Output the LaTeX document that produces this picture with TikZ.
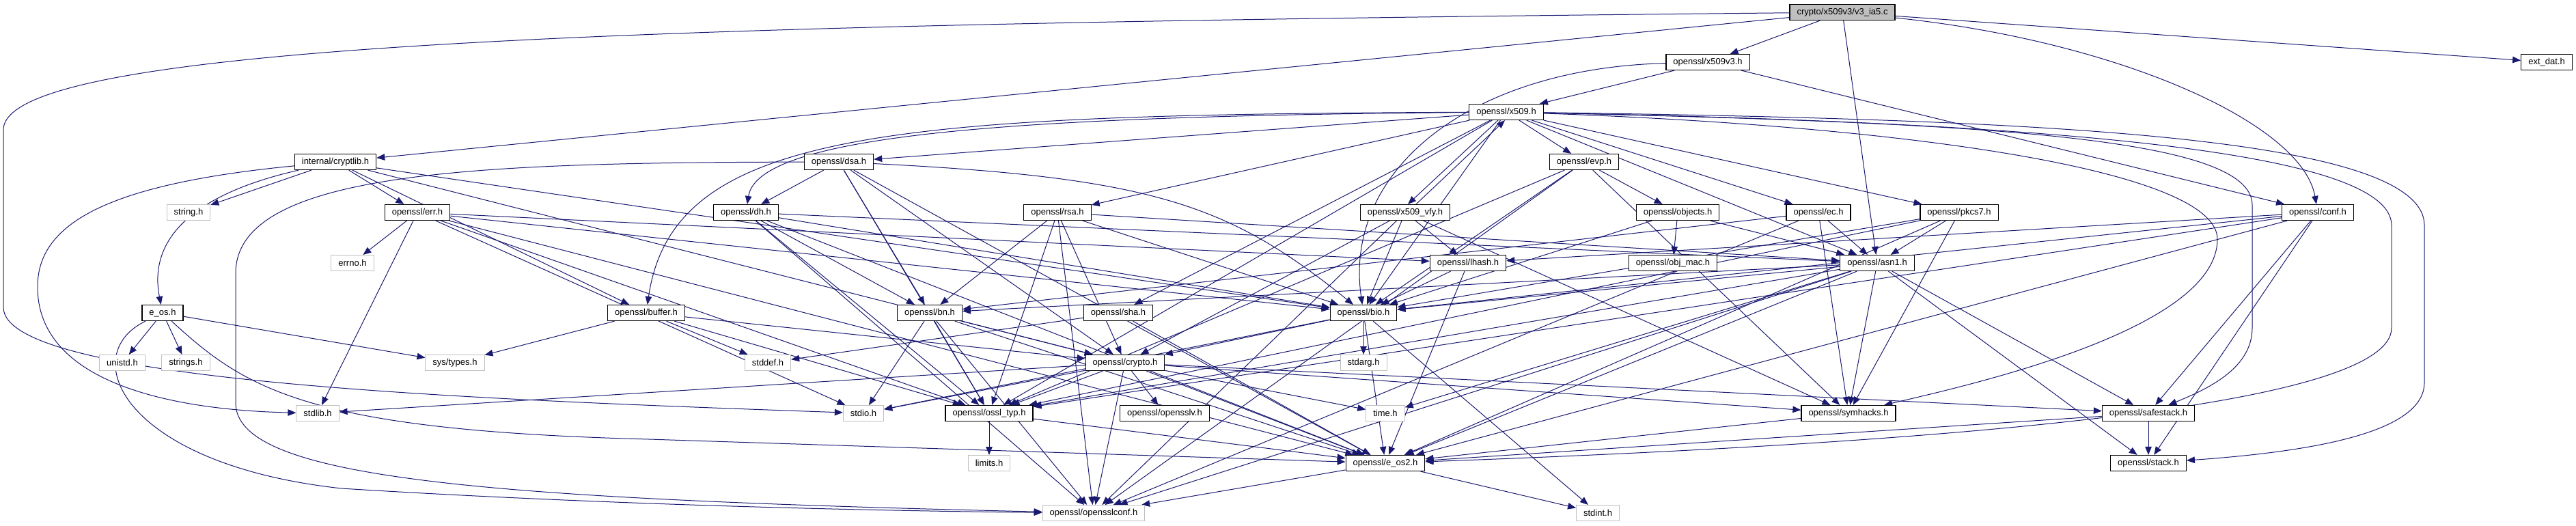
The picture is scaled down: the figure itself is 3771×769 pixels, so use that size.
\documentclass[tikz,border=0pt]{standalone}
\usepackage{fontspec}
\setmainfont{Liberation Sans}
\usetikzlibrary{arrows.meta}
\pgfdeclarelayer{background}
\pgfsetlayers{background,main}
\definecolor{dotblue}{HTML}{191970}
\definecolor{dotgrey}{HTML}{BFBFBF}
\tikzset{
  inc node/.style={
    draw=black,fill=white,line width=1.2pt,minimum height=23pt,
    inner xsep=10.5pt,inner ysep=0pt,font=\fontsize{13}{15}\selectfont
  },
  inc ext/.style={inc node,draw=dotgrey,line width=1pt},
  inc main/.style={inc node,fill=dotgrey},
  inc edge/.style={dotblue,line width=1pt,-{Triangle[length=12pt,width=9.5pt]}}
}

\begin{document}
\begin{tikzpicture}[x=1pt,y=-1pt]
  \useasboundingbox (0,0) rectangle (3771,769);
  % rows 0-2
  \node[inc main] (main) at (2697,18) {crypto/x509v3/v3\_ia5.c};
  \node[inc node] (x509v3) at (2500,91) {openssl/x509v3.h};
  \node[inc node] (extdat) at (3728,91) {ext\_dat.h};
  \node[inc node] (x509) at (2205,164) {openssl/x509.h};
  % rows 3-5
  \node[inc node] (cryptlib) at (491,237) {internal/cryptlib.h};
  \node[inc node] (dsa) at (1228,237) {openssl/dsa.h};
  \node[inc node] (evp) at (2319,237) {openssl/evp.h};
  \node[inc ext] (string) at (276,311) {string.h};
  \node[inc node] (err) at (611,311) {openssl/err.h};
  \node[inc node] (dh) at (1092,311) {openssl/dh.h};
  \node[inc node] (rsa) at (1548,311) {openssl/rsa.h};
  \node[inc node] (x509vfy) at (2057,311) {openssl/x509\_vfy.h};
  \node[inc node] (objects) at (2456,311) {openssl/objects.h};
  \node[inc node] (ec) at (2662,311) {openssl/ec.h};
  \node[inc node] (pkcs7) at (2868,311) {openssl/pkcs7.h};
  \node[inc node] (conf) at (3393,311) {openssl/conf.h};
  \node[inc ext] (errno) at (516,385) {errno.h};
  \node[inc node] (lhash) at (2149,385) {openssl/lhash.h};
  \node[inc node] (objmac) at (2449,385) {openssl/obj\_mac.h};
  \node[inc node] (asn1) at (2748,385) {openssl/asn1.h};
  % rows 6-7
  \node[inc node] (eos) at (238,458) {e\_os.h};
  \node[inc node] (buffer) at (946,458) {openssl/buffer.h};
  \node[inc node] (bn) at (1361,458) {openssl/bn.h};
  \node[inc node] (sha) at (1637,458) {openssl/sha.h};
  \node[inc node] (bio) at (1996,458) {openssl/bio.h};
  \node[inc ext] (unistd) at (179,531) {unistd.h};
  \node[inc ext] (strings) at (272,531) {strings.h};
  \node[inc ext] (systypes) at (666,531) {sys/types.h};
  \node[inc ext] (stddef) at (1124,531) {stddef.h};
  \node[inc node] (crypto) at (1647,531) {openssl/crypto.h};
  \node[inc ext] (stdarg) at (1996,531) {stdarg.h};
  % rows 8-10
  \node[inc ext] (stdlib) at (465,605) {stdlib.h};
  \node[inc ext] (stdio) at (1264,605) {stdio.h};
  \node[inc node] (ossltyp) at (1448,605) {openssl/ossl\_typ.h};
  \node[inc node] (opensslv) at (1705,605) {openssl/opensslv.h};
  \node[inc ext] (time) at (2028,605) {time.h};
  \node[inc node] (symhacks) at (2706,605) {openssl/symhacks.h};
  \node[inc node] (safestack) at (3145,605) {openssl/safestack.h};
  \node[inc ext] (limits) at (1448,678) {limits.h};
  \node[inc node] (eostwo) at (2028,678) {openssl/e\_os2.h};
  \node[inc node] (stack) at (3145,678) {openssl/stack.h};
  \node[inc ext] (opensslconf) at (1601,751) {openssl/opensslconf.h};
  \node[inc ext] (stdint) at (2339,751) {stdint.h};

  \begin{pgfonlayer}{background}
  \foreach \src/\dst in {
      main/cryptlib,main/x509v3,main/asn1,main/extdat,
      x509v3/x509,x509v3/conf,
      x509/dsa,x509/rsa,x509/evp,x509/ec,x509/pkcs7,
      x509/bio,x509/sha,x509/asn1,x509/ossltyp,
      cryptlib/string,cryptlib/crypto,cryptlib/buffer,cryptlib/bio,cryptlib/err,
      dsa/eostwo,dsa/crypto,dsa/ossltyp,dsa/bn,dsa/dh,
      evp/opensslconf,evp/ossltyp,evp/symhacks,evp/bio,evp/objects,
      err/eostwo,err/stdio,err/stdlib,err/ossltyp,err/bio,err/lhash,err/errno,
      dh/opensslconf,dh/eostwo,dh/bio,dh/asn1,dh/ossltyp,dh/bn,
      rsa/opensslconf,rsa/asn1,rsa/bio,rsa/crypto,rsa/ossltyp,rsa/bn,
      x509vfy/opensslconf,x509vfy/lhash,x509vfy/bio,x509vfy/crypto,x509vfy/symhacks,
      objects/objmac,objects/bio,objects/asn1,
      ec/opensslconf,ec/asn1,ec/symhacks,ec/bn,
      pkcs7/asn1,pkcs7/bio,pkcs7/eostwo,pkcs7/symhacks,pkcs7/ossltyp,
      conf/bio,conf/lhash,conf/stack,conf/safestack,conf/eostwo,conf/ossltyp,
      lhash/eostwo,lhash/bio,
      asn1/time,asn1/eostwo,asn1/opensslconf,asn1/bio,asn1/stack,asn1/safestack,
      asn1/symhacks,asn1/ossltyp,asn1/bn,
      eos/unistd,eos/strings,eos/systypes,
      buffer/ossltyp,buffer/crypto,buffer/stddef,buffer/systypes,
      bn/eostwo,bn/stdio,bn/opensslconf,bn/ossltyp,bn/crypto,
      sha/eostwo,sha/stddef,
      bio/eostwo,bio/stdio,bio/stdarg,bio/crypto,bio/stdint,
      crypto/stdlib,crypto/time,crypto/eostwo,crypto/stdio,crypto/safestack,
      crypto/opensslv,crypto/ossltyp,crypto/opensslconf,crypto/symhacks,
      ossltyp/limits,ossltyp/eostwo,symhacks/eostwo,
      safestack/stack,safestack/eostwo,
      eostwo/opensslconf,eostwo/stdint}
    \draw[inc edge] (\src) -- (\dst);
  % routed round the left side
  \draw[inc edge] (main) .. controls (1000,35) and (5,60) .. (5,190)
    -- (5,450) .. controls (5,560) and (700,585) .. (stdio);
  \draw[inc edge] (cryptlib) .. controls (150,270) and (55,330) .. (55,420)
    .. controls (55,560) and (250,600) .. (stdlib);
  \draw[inc edge] (cryptlib) .. controls (300,280) and (215,340) .. (eos);
  \draw[inc edge] (eos) .. controls (110,520) and (180,680) .. (500,715)
    .. controls (900,740) and (1300,748) .. (opensslconf);
  \draw[inc edge] (eos) .. controls (360,570) and (450,630) .. (950,643)
    -- (eostwo);
  \draw[inc edge] (dsa) .. controls (700,238) and (345,250) .. (345,400)
    -- (345,590) .. controls (345,700) and (700,730) .. (opensslconf);
  \draw[inc edge] (x509v3) .. controls (2150,100) and (1966,250) .. (bio);
  \draw[inc edge] (x509) .. controls (1500,170) and (1110,195) .. (dh);
  \draw[inc edge] (x509) .. controls (1300,168) and (985,190) .. (buffer);
  \draw[inc edge] (dsa) .. controls (1690,260) and (1800,300) .. (bio);
  % routed round the right side
  \draw[inc edge] (main) .. controls (3100,60) and (3370,180) .. (conf);
  \draw[inc edge] (x509) .. controls (2800,185) and (3246,250) .. (3246,350)
    .. controls (3246,480) and (2900,560) .. (symhacks);
  \draw[inc edge] (x509) .. controls (2900,180) and (3297,200) .. (3297,300)
    -- (3297,480) .. controls (3297,540) and (3230,570) .. (safestack);
  \draw[inc edge] (x509) .. controls (3000,180) and (3501,220) .. (3501,330)
    -- (3501,480) .. controls (3501,600) and (2800,650) .. (eostwo);
  \draw[inc edge] (x509) .. controls (3000,175) and (3549,200) .. (3549,330)
    -- (3549,560) .. controls (3549,630) and (3400,660) .. (stack);
  % the two headers that include each other
  \draw[inc edge] ([xshift=-12pt]x509.south) -- ([xshift=4pt]x509vfy.north);
  \draw[inc edge] ([xshift=16pt]x509vfy.north) -- ([xshift=-2pt]x509.south);
  \end{pgfonlayer}
\end{tikzpicture}
\end{document}
